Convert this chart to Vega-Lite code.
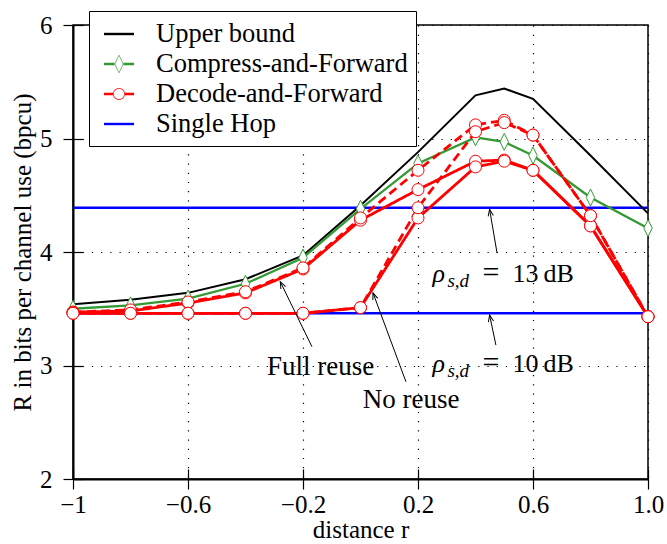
{
  "$schema": "https://vega.github.io/schema/vega-lite/v6.json",
  "width": 575,
  "height": 454,
  "autosize": "none",
  "padding": {"left": 73, "top": 25, "right": 19, "bottom": 65},
  "background": "white",
  "config": {
    "view": {"stroke": "black", "strokeWidth": 1.5},
    "font": "Liberation Serif, Times New Roman, DejaVu Serif, serif",
    "text": {"font": "Liberation Serif, Times New Roman, DejaVu Serif, serif", "color": "black"}
  },
  "datasets": {
    "curves": [
      {"scheme": "Upper bound", "curve": "UB", "r": -1, "rate": 3.54},
      {"scheme": "Upper bound", "curve": "UB", "r": -0.8, "rate": 3.58},
      {"scheme": "Upper bound", "curve": "UB", "r": -0.6, "rate": 3.64},
      {"scheme": "Upper bound", "curve": "UB", "r": -0.4, "rate": 3.76},
      {"scheme": "Upper bound", "curve": "UB", "r": -0.2, "rate": 3.97},
      {"scheme": "Upper bound", "curve": "UB", "r": 0, "rate": 4.41},
      {"scheme": "Upper bound", "curve": "UB", "r": 0.2, "rate": 4.88},
      {"scheme": "Upper bound", "curve": "UB", "r": 0.4, "rate": 5.38},
      {"scheme": "Upper bound", "curve": "UB", "r": 0.5, "rate": 5.44},
      {"scheme": "Upper bound", "curve": "UB", "r": 0.6, "rate": 5.35},
      {"scheme": "Upper bound", "curve": "UB", "r": 0.8, "rate": 4.85},
      {"scheme": "Upper bound", "curve": "UB", "r": 1, "rate": 4.34},
      {"scheme": "Compress-and-Forward", "curve": "CF", "r": -1, "rate": 3.5},
      {"scheme": "Compress-and-Forward", "curve": "CF", "r": -0.8, "rate": 3.53},
      {"scheme": "Compress-and-Forward", "curve": "CF", "r": -0.6, "rate": 3.59},
      {"scheme": "Compress-and-Forward", "curve": "CF", "r": -0.4, "rate": 3.72},
      {"scheme": "Compress-and-Forward", "curve": "CF", "r": -0.2, "rate": 3.95},
      {"scheme": "Compress-and-Forward", "curve": "CF", "r": 0, "rate": 4.38},
      {"scheme": "Compress-and-Forward", "curve": "CF", "r": 0.2, "rate": 4.78},
      {"scheme": "Compress-and-Forward", "curve": "CF", "r": 0.4, "rate": 5.01},
      {"scheme": "Compress-and-Forward", "curve": "CF", "r": 0.5, "rate": 4.97},
      {"scheme": "Compress-and-Forward", "curve": "CF", "r": 0.6, "rate": 4.85},
      {"scheme": "Compress-and-Forward", "curve": "CF", "r": 0.8, "rate": 4.48},
      {"scheme": "Compress-and-Forward", "curve": "CF", "r": 1, "rate": 4.21},
      {"scheme": "Decode-and-Forward", "curve": "DF full reuse A", "r": -1, "rate": 3.47},
      {"scheme": "Decode-and-Forward", "curve": "DF full reuse A", "r": -0.8, "rate": 3.48},
      {"scheme": "Decode-and-Forward", "curve": "DF full reuse A", "r": -0.6, "rate": 3.55},
      {"scheme": "Decode-and-Forward", "curve": "DF full reuse A", "r": -0.4, "rate": 3.64},
      {"scheme": "Decode-and-Forward", "curve": "DF full reuse A", "r": -0.2, "rate": 3.85},
      {"scheme": "Decode-and-Forward", "curve": "DF full reuse A", "r": 0, "rate": 4.28},
      {"scheme": "Decode-and-Forward", "curve": "DF full reuse A", "r": 0.2, "rate": 4.55},
      {"scheme": "Decode-and-Forward", "curve": "DF full reuse A", "r": 0.4, "rate": 4.8},
      {"scheme": "Decode-and-Forward", "curve": "DF full reuse A", "r": 0.5, "rate": 4.81},
      {"scheme": "Decode-and-Forward", "curve": "DF full reuse A", "r": 0.6, "rate": 4.72},
      {"scheme": "Decode-and-Forward", "curve": "DF full reuse A", "r": 0.8, "rate": 4.23},
      {"scheme": "Decode-and-Forward", "curve": "DF full reuse A", "r": 1, "rate": 3.43},
      {"scheme": "Decode-and-Forward", "curve": "DF full reuse B", "r": -1, "rate": 3.47},
      {"scheme": "Decode-and-Forward", "curve": "DF full reuse B", "r": -0.8, "rate": 3.49},
      {"scheme": "Decode-and-Forward", "curve": "DF full reuse B", "r": -0.6, "rate": 3.56},
      {"scheme": "Decode-and-Forward", "curve": "DF full reuse B", "r": -0.4, "rate": 3.65},
      {"scheme": "Decode-and-Forward", "curve": "DF full reuse B", "r": -0.2, "rate": 3.86},
      {"scheme": "Decode-and-Forward", "curve": "DF full reuse B", "r": 0, "rate": 4.3},
      {"scheme": "Decode-and-Forward", "curve": "DF full reuse B", "r": 0.2, "rate": 4.72},
      {"scheme": "Decode-and-Forward", "curve": "DF full reuse B", "r": 0.4, "rate": 5.12},
      {"scheme": "Decode-and-Forward", "curve": "DF full reuse B", "r": 0.5, "rate": 5.16},
      {"scheme": "Decode-and-Forward", "curve": "DF full reuse B", "r": 0.6, "rate": 5.03},
      {"scheme": "Decode-and-Forward", "curve": "DF full reuse B", "r": 0.8, "rate": 4.32},
      {"scheme": "Decode-and-Forward", "curve": "DF full reuse B", "r": 1, "rate": 3.43},
      {"scheme": "Decode-and-Forward", "curve": "DF no reuse A", "r": -1, "rate": 3.46},
      {"scheme": "Decode-and-Forward", "curve": "DF no reuse A", "r": -0.8, "rate": 3.46},
      {"scheme": "Decode-and-Forward", "curve": "DF no reuse A", "r": -0.6, "rate": 3.46},
      {"scheme": "Decode-and-Forward", "curve": "DF no reuse A", "r": -0.4, "rate": 3.46},
      {"scheme": "Decode-and-Forward", "curve": "DF no reuse A", "r": -0.2, "rate": 3.46},
      {"scheme": "Decode-and-Forward", "curve": "DF no reuse A", "r": 0, "rate": 3.51},
      {"scheme": "Decode-and-Forward", "curve": "DF no reuse A", "r": 0.2, "rate": 4.3},
      {"scheme": "Decode-and-Forward", "curve": "DF no reuse A", "r": 0.4, "rate": 4.75},
      {"scheme": "Decode-and-Forward", "curve": "DF no reuse A", "r": 0.5, "rate": 4.8},
      {"scheme": "Decode-and-Forward", "curve": "DF no reuse A", "r": 0.6, "rate": 4.72},
      {"scheme": "Decode-and-Forward", "curve": "DF no reuse A", "r": 0.8, "rate": 4.23},
      {"scheme": "Decode-and-Forward", "curve": "DF no reuse A", "r": 1, "rate": 3.43},
      {"scheme": "Decode-and-Forward", "curve": "DF no reuse B", "r": -1, "rate": 3.46},
      {"scheme": "Decode-and-Forward", "curve": "DF no reuse B", "r": -0.8, "rate": 3.46},
      {"scheme": "Decode-and-Forward", "curve": "DF no reuse B", "r": -0.6, "rate": 3.46},
      {"scheme": "Decode-and-Forward", "curve": "DF no reuse B", "r": -0.4, "rate": 3.46},
      {"scheme": "Decode-and-Forward", "curve": "DF no reuse B", "r": -0.2, "rate": 3.46},
      {"scheme": "Decode-and-Forward", "curve": "DF no reuse B", "r": 0, "rate": 3.51},
      {"scheme": "Decode-and-Forward", "curve": "DF no reuse B", "r": 0.2, "rate": 4.39},
      {"scheme": "Decode-and-Forward", "curve": "DF no reuse B", "r": 0.4, "rate": 5.06},
      {"scheme": "Decode-and-Forward", "curve": "DF no reuse B", "r": 0.5, "rate": 5.14},
      {"scheme": "Decode-and-Forward", "curve": "DF no reuse B", "r": 0.6, "rate": 5.03},
      {"scheme": "Decode-and-Forward", "curve": "DF no reuse B", "r": 0.8, "rate": 4.32},
      {"scheme": "Decode-and-Forward", "curve": "DF no reuse B", "r": 1, "rate": 3.43},
      {"scheme": "Single Hop", "curve": "SH 13 dB", "r": -1, "rate": 4.39},
      {"scheme": "Single Hop", "curve": "SH 13 dB", "r": 1, "rate": 4.39},
      {"scheme": "Single Hop", "curve": "SH 10 dB", "r": -1, "rate": 3.46},
      {"scheme": "Single Hop", "curve": "SH 10 dB", "r": 1, "rate": 3.46}
    ],
    "arrows": [
      {"note": "Full reuse", "x": -0.169, "y": 3.166, "x2": -0.279, "y2": 3.738},
      {"note": "No reuse", "x": 0.158, "y": 2.857, "x2": 0.0435, "y2": 3.64},
      {"note": "13 dB", "x": 0.475, "y": 3.99, "x2": 0.449, "y2": 4.376},
      {"note": "10 dB", "x": 0.471, "y": 3.18, "x2": 0.449, "y2": 3.445}
    ],
    "notes": [
      {"text": "Full reuse", "x": -0.139, "y": 2.99},
      {"text": "No reuse", "x": 0.176, "y": 2.7}
    ],
    "snr": [
      {"sym": "\u03c1", "sub": "s,d", "rest": "13\u2009dB", "x": 0.25, "y": 3.74},
      {"sym": "\u03c1", "sub": "s,d", "rest": "10\u2009dB", "x": 0.25, "y": 2.945}
    ]
  },
  "resolve": {"axis": {"x": "independent", "y": "independent"}},
  "layer": [
    {
      "data": {"name": "curves"},
      "transform": [{"filter": "datum.scheme === 'Single Hop'"}],
      "mark": {"type": "line", "strokeWidth": 2.6},
      "encoding": {
        "x": {"field": "r", "type": "quantitative",
          "scale": {"domain": [-1, 1], "nice": false, "zero": false},
          "axis": {"orient": "bottom", "values": [-1, -0.6, -0.2, 0.2, 0.6, 1],
            "labelExpr": "datum.value == -1 ? '\u22121' : replace(format(datum.value, '.1f'), '-', '\u2212')",
            "labelFont": "Liberation Serif, Times New Roman, DejaVu Serif, serif", "labelFontSize": 25, "labelColor": "black", "labelPadding": 3,
            "labelFlush": false, "labelOverlap": false,
            "tickSize": 10, "tickColor": "black", "tickWidth": 1.2,
            "domainColor": "black", "domainWidth": 2,
            "grid": true, "gridColor": "black", "gridDash": [1.2, 8], "gridWidth": 1.2, "gridOpacity": 1,
            "title": "distance r", "titleFont": "Liberation Serif, Times New Roman, DejaVu Serif, serif", "titleFontSize": 25, "titleFontWeight": "normal", "titleColor": "black", "titlePadding": 0}},
        "y": {"field": "rate", "type": "quantitative",
          "scale": {"domain": [2, 6], "nice": false, "zero": false},
          "axis": {"orient": "left", "values": [2, 3, 4, 5, 6], "format": "d",
            "labelFont": "Liberation Serif, Times New Roman, DejaVu Serif, serif", "labelFontSize": 25, "labelColor": "black", "labelPadding": 11,
            "labelFlush": false, "labelOverlap": false,
            "tickSize": 10, "tickColor": "black", "tickWidth": 1.2,
            "domainColor": "black", "domainWidth": 2,
            "grid": true, "gridColor": "black", "gridDash": [1.2, 8], "gridWidth": 1.2, "gridOpacity": 1,
            "title": "R in bits per channel use (bpcu)", "titleFont": "Liberation Serif, Times New Roman, DejaVu Serif, serif", "titleFontSize": 25, "titleFontWeight": "normal", "titleColor": "black", "titlePadding": 4}},
        "color": {"field": "scheme", "type": "nominal",
          "scale": {"domain": ["Upper bound", "Compress-and-Forward", "Decode-and-Forward", "Single Hop"], "range": ["black", "#339933", "#ff0000", "#0000ff"]},
          "legend": {"title": null, "orient": "none", "legendX": 16, "legendY": -14,
            "fillColor": "white", "strokeColor": "black", "padding": 8, "symbolOffset": 7,
            "labelFont": "Liberation Serif, Times New Roman, DejaVu Serif, serif", "labelFontSize": 26.5, "labelColor": "black", "labelOffset": 22, "labelLimit": 400,
            "symbolSize": 900, "symbolStrokeWidth": 0, "rowPadding": 1,
            "encode": {"symbols": {"update": {
              "shape": {"signal": "datum.value === 'Compress-and-Forward' ? 'M-1,-0.08L-0.31,-0.08L-0.31,0.08L-1,0.08ZM0.31,-0.08L1,-0.08L1,0.08L0.31,0.08ZM0,-0.63L0.31,0L0,0.63L-0.31,0ZM0,-0.55L-0.26,0L0,0.55L0.26,0Z' : datum.value === 'Decode-and-Forward' ? 'M-1,-0.08L-0.4,-0.08L-0.4,0.08L-1,0.08ZM0.4,-0.08L1,-0.08L1,0.08L0.4,0.08ZM0.4,0L0.37,0.153L0.283,0.283L0.153,0.37L0,0.4L-0.153,0.37L-0.283,0.283L-0.37,0.153L-0.4,0L-0.37,-0.153L-0.283,-0.283L-0.153,-0.37L0,-0.4L0.153,-0.37L0.283,-0.283L0.37,-0.153ZM0.35,0L0.323,-0.134L0.247,-0.247L0.134,-0.323L0,-0.35L-0.134,-0.323L-0.247,-0.247L-0.323,-0.134L-0.35,0L-0.323,0.134L-0.247,0.247L-0.134,0.323L0,0.35L0.134,0.323L0.247,0.247L0.323,0.134Z' : 'M-1,-0.08L1,-0.08L1,0.08L-1,0.08Z'"},
              "fill": {"scale": "color", "field": "value"},
              "fillOpacity": {"value": 1},
              "opacity": {"value": 1},
              "stroke": {"value": "transparent"},
              "strokeWidth": {"value": 0}
            }}}}},
        "detail": {"field": "curve"}
      }
    },
    {
      "data": {"name": "curves"},
      "transform": [{"filter": "datum.scheme === 'Upper bound'"}],
      "mark": {"type": "line", "strokeWidth": 2},
      "encoding": {
        "x": {"field": "r", "type": "quantitative",
          "axis": {"orient": "bottom", "values": [-1, -0.6, -0.2, 0.2, 0.6, 1], "labels": false, "domain": false, "grid": false,
            "tickSize": -10, "tickColor": "black", "tickWidth": 1.2, "title": null}},
        "y": {"field": "rate", "type": "quantitative",
          "axis": {"orient": "left", "values": [2, 3, 4, 5, 6], "labels": false, "domain": false, "grid": false,
            "tickSize": -10, "tickColor": "black", "tickWidth": 1.2, "title": null}},
        "color": {"field": "scheme", "type": "nominal"},
        "detail": {"field": "curve"}
      }
    },
    {
      "data": {"name": "curves"},
      "transform": [{"filter": "datum.scheme === 'Compress-and-Forward'"}],
      "mark": {"type": "line", "strokeWidth": 2.3},
      "encoding": {
        "x": {"field": "r", "type": "quantitative", "axis": null},
        "y": {"field": "rate", "type": "quantitative", "axis": null},
        "color": {"field": "scheme", "type": "nominal"},
        "detail": {"field": "curve"}
      }
    },
    {
      "data": {"name": "curves"},
      "transform": [{"filter": "datum.scheme === 'Compress-and-Forward'"}],
      "mark": {"type": "point", "shape": "M0,-1L0.5,0L0,1L-0.5,0Z", "filled": true, "fill": "white", "stroke": "#339933", "strokeWidth": 1, "size": 289, "opacity": 1},
      "encoding": {
        "x": {"field": "r", "type": "quantitative", "axis": null},
        "y": {"field": "rate", "type": "quantitative", "axis": null}
      }
    },
    {
      "data": {"name": "curves"},
      "transform": [{"filter": "datum.scheme === 'Decode-and-Forward'"}],
      "mark": {"type": "line", "strokeWidth": 2.8},
      "encoding": {
        "x": {"field": "r", "type": "quantitative", "axis": null},
        "y": {"field": "rate", "type": "quantitative", "axis": null},
        "color": {"field": "scheme", "type": "nominal"},
        "detail": {"field": "curve"},
        "strokeDash": {"field": "curve", "type": "nominal",
          "scale": {"domain": ["DF full reuse A", "DF full reuse B", "DF no reuse A", "DF no reuse B"], "range": [[1, 0], [9, 5], [1, 0], [9, 5]]},
          "legend": null}
      }
    },
    {
      "data": {"name": "curves"},
      "transform": [{"filter": "datum.scheme === 'Decode-and-Forward'"}],
      "mark": {"type": "point", "shape": "circle", "filled": true, "fill": "white", "stroke": "#ff0000", "strokeWidth": 1, "size": 144, "opacity": 1},
      "encoding": {
        "x": {"field": "r", "type": "quantitative", "axis": null},
        "y": {"field": "rate", "type": "quantitative", "axis": null}
      }
    },
    {
      "data": {"name": "arrows"},
      "mark": {"type": "rule", "stroke": "black", "strokeWidth": 1},
      "encoding": {
        "x": {"field": "x", "type": "quantitative", "axis": null},
        "y": {"field": "y", "type": "quantitative", "axis": null},
        "x2": {"field": "x2"},
        "y2": {"field": "y2"}
      }
    },
    {
      "data": {"name": "arrows"},
      "transform": [{"filter": "datum.note === 'Full reuse'"}],
      "mark": {"type": "point", "shape": "M-0.35,0.9L0,0L0.35,0.9", "filled": false, "stroke": "black", "strokeWidth": 1, "size": 225, "angle": 334, "opacity": 1},
      "encoding": {
        "x": {"field": "x2", "type": "quantitative", "axis": null},
        "y": {"field": "y2", "type": "quantitative", "axis": null}
      }
    },
    {
      "data": {"name": "arrows"},
      "transform": [{"filter": "datum.note === 'No reuse'"}],
      "mark": {"type": "point", "shape": "M-0.35,0.9L0,0L0.35,0.9", "filled": false, "stroke": "black", "strokeWidth": 1, "size": 225, "angle": 340, "opacity": 1},
      "encoding": {
        "x": {"field": "x2", "type": "quantitative", "axis": null},
        "y": {"field": "y2", "type": "quantitative", "axis": null}
      }
    },
    {
      "data": {"name": "arrows"},
      "transform": [{"filter": "datum.note === '13 dB'"}],
      "mark": {"type": "point", "shape": "M-0.35,0.9L0,0L0.35,0.9", "filled": false, "stroke": "black", "strokeWidth": 1, "size": 225, "angle": 350, "opacity": 1},
      "encoding": {
        "x": {"field": "x2", "type": "quantitative", "axis": null},
        "y": {"field": "y2", "type": "quantitative", "axis": null}
      }
    },
    {
      "data": {"name": "arrows"},
      "transform": [{"filter": "datum.note === '10 dB'"}],
      "mark": {"type": "point", "shape": "M-0.35,0.9L0,0L0.35,0.9", "filled": false, "stroke": "black", "strokeWidth": 1, "size": 225, "angle": 348, "opacity": 1},
      "encoding": {
        "x": {"field": "x2", "type": "quantitative", "axis": null},
        "y": {"field": "y2", "type": "quantitative", "axis": null}
      }
    },
    {
      "data": {"name": "notes"},
      "mark": {"type": "text", "fontSize": 27, "align": "center", "baseline": "middle", "color": "black"},
      "encoding": {
        "x": {"field": "x", "type": "quantitative", "axis": null},
        "y": {"field": "y", "type": "quantitative", "axis": null},
        "text": {"field": "text"}
      }
    },
    {
      "data": {"name": "snr"},
      "mark": {"type": "text", "fontSize": 26, "fontStyle": "italic", "align": "left", "baseline": "alphabetic", "color": "black"},
      "encoding": {
        "x": {"field": "x", "type": "quantitative", "axis": null},
        "y": {"field": "y", "type": "quantitative", "axis": null},
        "text": {"field": "sym"}
      }
    },
    {
      "data": {"name": "snr"},
      "mark": {"type": "text", "fontSize": 19, "fontStyle": "italic", "align": "left", "baseline": "alphabetic", "dx": 15, "dy": 5, "color": "black"},
      "encoding": {
        "x": {"field": "x", "type": "quantitative", "axis": null},
        "y": {"field": "y", "type": "quantitative", "axis": null},
        "text": {"field": "sub"}
      }
    },
    {
      "data": {"name": "snr"},
      "mark": {"type": "text", "fontSize": 30, "align": "left", "baseline": "alphabetic", "dx": 50, "color": "black"},
      "encoding": {
        "x": {"field": "x", "type": "quantitative", "axis": null},
        "y": {"field": "y", "type": "quantitative", "axis": null},
        "text": {"value": "="}
      }
    },
    {
      "data": {"name": "snr"},
      "mark": {"type": "text", "fontSize": 26, "align": "left", "baseline": "alphabetic", "dx": 80, "color": "black"},
      "encoding": {
        "x": {"field": "x", "type": "quantitative", "axis": null},
        "y": {"field": "y", "type": "quantitative", "axis": null},
        "text": {"field": "rest"}
      }
    }
  ]
}
